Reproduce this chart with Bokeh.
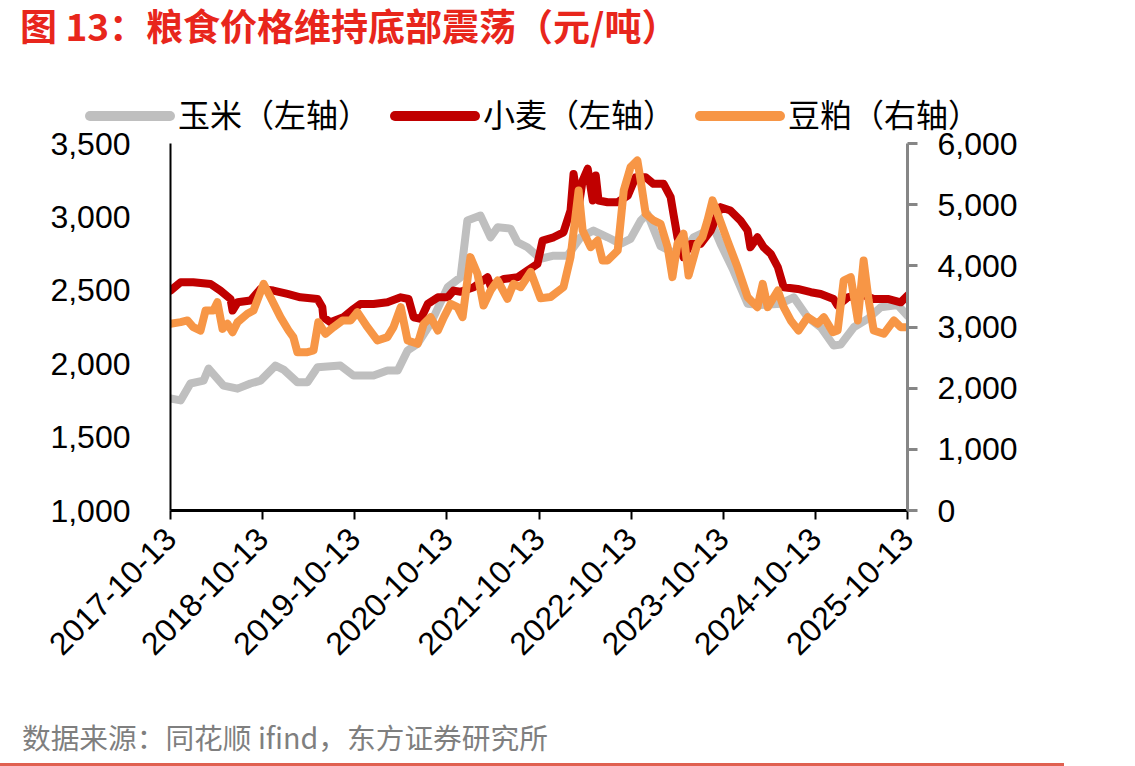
import math
import pandas as pd
from bokeh.plotting import figure
from bokeh.layouts import column
from bokeh.models import (Range1d, LinearAxis, FixedTicker, NumeralTickFormatter,
                          DatetimeTickFormatter, ColumnDataSource, Div)
from bokeh.embed import file_html
from bokeh.resources import INLINE

# ---- data -------------------------------------------------------------
corn_dates = [
    "2017-10-13", "2017-11-22", "2017-12-31", "2018-02-21", "2018-03-13",
    "2018-05-11", "2018-07-06", "2018-08-26", "2018-10-05", "2018-12-03",
    "2019-01-04", "2019-02-28", "2019-04-09", "2019-05-19", "2019-08-18",
    "2019-10-09", "2019-12-27", "2020-02-20", "2020-04-01", "2020-05-10",
    "2020-06-19", "2020-08-09", "2020-10-16", "2020-12-06", "2021-01-02",
    "2021-02-23", "2021-04-04", "2021-05-02", "2021-06-22", "2021-07-20",
    "2021-08-28", "2021-10-19", "2021-12-10", "2022-02-03", "2022-03-27",
    "2022-05-17", "2022-07-12", "2022-09-01", "2022-10-11", "2022-11-20",
    "2022-12-17", "2023-02-07", "2023-04-07", "2023-05-17", "2023-06-18",
    "2023-08-12", "2023-09-05", "2023-10-03", "2023-11-23", "2024-01-18",
    "2024-03-10", "2024-05-28", "2024-07-19", "2024-09-12", "2024-11-03",
    "2024-12-24", "2025-01-21", "2025-03-14", "2025-05-08", "2025-06-29",
    "2025-09-04", "2025-10-13",
]
corn_price = [
    1763, 1750, 1865, 1885, 1967,
    1851, 1830, 1865, 1885, 1987,
    1960, 1874, 1874, 1976, 1987,
    1919, 1919, 1953, 1953, 2090,
    2137, 2273, 2521, 2589, 2975,
    3009, 2861, 2930, 2920, 2827,
    2793, 2715, 2736, 2736, 2861,
    2907, 2861, 2816, 2850, 2975,
    3020, 2800, 2750, 2780, 2861,
    2907, 2930, 2816, 2634, 2409,
    2400, 2409, 2452, 2316, 2248,
    2124, 2130, 2248, 2305, 2384,
    2400, 2327,
]

wheat_dates = [
    "2017-10-13", "2017-11-22", "2018-01-11", "2018-03-21", "2018-04-29",
    "2018-06-08", "2018-06-16", "2018-07-06", "2018-08-26", "2018-10-05",
    "2018-11-25", "2019-01-20", "2019-03-12", "2019-05-19", "2019-06-07",
    "2019-06-11", "2019-07-09", "2019-08-29", "2019-10-09", "2019-11-05",
    "2019-12-27", "2020-02-20", "2020-04-13", "2020-05-14", "2020-06-03",
    "2020-07-01", "2020-07-29", "2020-09-07", "2020-10-16", "2020-11-08",
    "2020-12-06", "2021-01-27", "2021-03-23", "2021-04-04", "2021-05-26",
    "2021-07-20", "2021-08-28", "2021-10-07", "2021-10-27", "2021-12-10",
    "2022-01-18", "2022-02-15", "2022-02-27", "2022-03-19", "2022-04-04",
    "2022-04-24", "2022-05-14", "2022-05-26", "2022-06-06", "2022-07-12",
    "2022-08-21", "2022-09-30", "2022-10-31", "2022-12-10", "2023-01-10",
    "2023-02-19", "2023-03-19", "2023-03-30", "2023-04-15", "2023-05-09",
    "2023-06-06", "2023-07-16", "2023-08-25", "2023-10-03", "2023-11-11",
    "2023-12-21", "2024-01-18", "2024-01-29", "2024-02-26", "2024-03-22",
    "2024-04-19", "2024-05-17", "2024-06-09", "2024-08-04", "2024-09-25",
    "2024-11-03", "2024-12-24", "2025-01-09", "2025-02-18", "2025-04-11",
    "2025-06-01", "2025-07-27", "2025-09-16", "2025-10-13",
]
wheat_price = [
    2498, 2555, 2555, 2543, 2498,
    2441, 2362, 2418, 2430, 2509,
    2498, 2475, 2452, 2441, 2384,
    2316, 2282, 2316, 2373, 2407,
    2407, 2418, 2452, 2441, 2316,
    2305, 2407, 2452, 2452, 2498,
    2490, 2521, 2589, 2530, 2577,
    2589, 2634, 2680, 2839, 2861,
    2895, 3043, 3293, 3066, 3248,
    3328, 3112, 3282, 3112, 3100,
    3100, 3145, 3270, 3270, 3225,
    3225, 3134, 3020, 2861, 2725,
    2816, 2816, 2907, 3066, 3043,
    2975, 2907, 2793, 2861, 2793,
    2748, 2657, 2521, 2509, 2487,
    2475, 2441, 2396, 2452, 2475,
    2441, 2441, 2418, 2464,
]

meal_dates = [
    "2017-10-13", "2017-11-22", "2017-12-19", "2018-01-11", "2018-02-09",
    "2018-03-01", "2018-04-01", "2018-04-17", "2018-05-07", "2018-05-27",
    "2018-06-16", "2018-07-06", "2018-08-14", "2018-09-07", "2018-10-17",
    "2018-11-13", "2018-12-23", "2019-01-24", "2019-02-12", "2019-02-28",
    "2019-04-09", "2019-05-03", "2019-05-22", "2019-06-19", "2019-07-21",
    "2019-08-26", "2019-09-27", "2019-10-24", "2019-12-03", "2020-01-11",
    "2020-02-20", "2020-03-15", "2020-04-13", "2020-05-10", "2020-06-19",
    "2020-07-13", "2020-08-09", "2020-09-07", "2020-10-01", "2020-10-28",
    "2020-11-24", "2020-12-14", "2021-01-14", "2021-02-11", "2021-03-07",
    "2021-04-04", "2021-05-02", "2021-06-10", "2021-07-04", "2021-08-01",
    "2021-09-10", "2021-10-19", "2021-11-28", "2022-01-18", "2022-02-15",
    "2022-03-19", "2022-04-04", "2022-05-06", "2022-06-02", "2022-06-22",
    "2022-07-12", "2022-08-21", "2022-09-14", "2022-10-11", "2022-11-07",
    "2022-11-20", "2022-12-10", "2023-01-10", "2023-02-07", "2023-03-07",
    "2023-03-26", "2023-04-15", "2023-05-09", "2023-05-29", "2023-07-03",
    "2023-07-23", "2023-08-12", "2023-09-01", "2023-09-21", "2023-10-30",
    "2023-12-09", "2024-01-18", "2024-02-26", "2024-03-18", "2024-04-07",
    "2024-05-17", "2024-06-09", "2024-07-07", "2024-08-07", "2024-09-12",
    "2024-10-22", "2024-11-15", "2024-12-21", "2025-01-09", "2025-02-02",
    "2025-03-02", "2025-03-30", "2025-04-22", "2025-05-12", "2025-06-01",
    "2025-07-11", "2025-08-20", "2025-09-16", "2025-10-13",
]
meal_price = [
    3053, 3080, 3107, 2997, 2943,
    3270, 3270, 3406, 2970, 3053,
    2915, 3080, 3216, 3270, 3706,
    3488, 3161, 2943, 2834, 2589,
    2589, 2616, 3079, 2889, 2997,
    3107, 3107, 3243, 2997, 2780,
    2834, 2997, 3324, 2780, 2725,
    3053, 3161, 2943, 3161, 3379,
    3324, 3161, 4142, 3870, 3352,
    3597, 3760, 3461, 3706, 3650,
    3900, 3470, 3490, 3651, 4142,
    5232, 4578, 4305, 4414, 4087,
    4087, 4251, 5232, 5613, 5723,
    5396, 4851, 4742, 4687, 4305,
    3815, 4360, 4524, 3842, 4360,
    4470, 4742, 5069, 4851, 4414,
    3978, 3488, 3324, 3706, 3324,
    3597, 3324, 3107, 2943, 3161,
    3053, 3161, 2916, 2943, 3760,
    3815, 3107, 4087, 3434, 2943,
    2889, 3107, 2997, 2997,
]

date_ticks = ["2017-10-13", "2018-10-13", "2019-10-13", "2020-10-13", "2021-10-13",
              "2022-10-13", "2023-10-13", "2024-10-13", "2025-10-13"]
left_ticks = [1000, 1500, 2000, 2500, 3000, 3500]
right_ticks = [0, 1000, 2000, 3000, 4000, 5000, 6000]

series_names = ["玉米（左轴）", "小麦（左轴）", "豆粕（右轴）"]
series_colors = ["#BFBFBF", "#C00000", "#F79646"]

title_text = "图 13：粮食价格维持底部震荡（元/吨）"
source_text = "数据来源：同花顺 ifind，东方证券研究所"

NUM_FONT = "Liberation Sans"
CJK_FONT = "Noto Sans CJK SC"

# ---- header: heading and legend ---------------------------------------
legend_x = [85, 390, 695]
items_html = ""
for name, color, lx in zip(series_names, series_colors, legend_x):
    items_html += (
        f'<div style="position:absolute;left:{lx}px;top:111px;width:90px;height:10px;'
        f'border-radius:5px;background:{color};"></div>'
        f'<div style="position:absolute;left:{lx + 93}px;top:95px;white-space:nowrap;'
        f"font-family:'{CJK_FONT}';font-size:32px;line-height:36px;color:#000;\">"
        f'{name}</div>'
    )
header_html = (
    '<div style="position:relative;width:1135px;height:143px;">'
    f'<div style="position:absolute;left:20px;top:4px;white-space:nowrap;'
    f"font-family:'{CJK_FONT}';font-weight:bold;font-size:37px;line-height:42px;"
    f'color:#E8261C;">{title_text}</div>'
    f'{items_html}</div>'
)
header = Div(text=header_html, width=1135, height=143, margin=0,
             styles={"position": "relative", "z-index": "1"})

# ---- figure -----------------------------------------------------------
p = figure(
    width=1135, height=587,
    x_axis_type="datetime",
    x_range=Range1d(pd.Timestamp(date_ticks[0]), pd.Timestamp(date_ticks[-1])),
    y_range=Range1d(left_ticks[0], left_ticks[-1]),
    output_backend="svg", toolbar_location=None,
    min_border_left=170, min_border_right=228,
    min_border_top=20, min_border_bottom=200,
    margin=(-20, 0, 0, 0),
)
p.extra_y_ranges = {"meal": Range1d(right_ticks[0], right_ticks[-1])}
p.outline_line_color = None
p.xgrid.visible = False
p.ygrid.visible = False
p.background_fill_color = "white"
p.border_fill_color = None

# lines: corn at the back, meal on top
for dates, prices, color, rng in [
    (corn_dates, corn_price, series_colors[0], "default"),
    (wheat_dates, wheat_price, series_colors[1], "default"),
    (meal_dates, meal_price, series_colors[2], "meal"),
]:
    src = ColumnDataSource(dict(date=pd.to_datetime(dates), price=prices))
    p.line("date", "price", source=src, line_color=color, line_width=8,
           line_join="round", line_cap="round", y_range_name=rng)

# x axis
xa = p.xaxis[0]
xa.ticker = FixedTicker(ticks=[pd.Timestamp(d).value / 1e6 for d in date_ticks])
fmt = "%Y-%m-%d"
xa.formatter = DatetimeTickFormatter(years=fmt, months=fmt, days=fmt, hours=fmt,
                                     minutes=fmt, seconds=fmt, milliseconds=fmt,
                                     microseconds=fmt)
xa.major_label_orientation = math.pi / 4
xa.axis_line_color = "black"
xa.axis_line_width = 3
xa.major_tick_line_color = "black"
xa.major_tick_line_width = 2
xa.major_tick_out = 9
xa.major_tick_in = 0
xa.minor_tick_line_color = None
xa.major_label_text_font = NUM_FONT
xa.major_label_text_font_size = "32px"
xa.major_label_text_color = "black"
xa.major_label_standoff = 14

# left axis
ya = p.yaxis[0]
ya.ticker = FixedTicker(ticks=left_ticks)
ya.formatter = NumeralTickFormatter(format="0,0")
ya.axis_line_color = "black"
ya.axis_line_width = 2
ya.major_tick_line_color = None
ya.major_tick_out = 0
ya.major_tick_in = 0
ya.minor_tick_line_color = None
ya.major_label_text_font = NUM_FONT
ya.major_label_text_font_size = "32px"
ya.major_label_text_color = "black"
ya.major_label_standoff = 40

# right axis
ra = LinearAxis(y_range_name="meal", ticker=FixedTicker(ticks=right_ticks),
                formatter=NumeralTickFormatter(format="0,0"))
ra.axis_line_color = "#868686"
ra.axis_line_width = 3
ra.major_tick_line_color = "#868686"
ra.major_tick_line_width = 3
ra.major_tick_out = 10
ra.major_tick_in = 0
ra.minor_tick_line_color = None
ra.major_label_text_font = NUM_FONT
ra.major_label_text_font_size = "32px"
ra.major_label_text_color = "black"
ra.major_label_standoff = 20
p.add_layout(ra, "right")

# ---- footer: source note and bottom rule ------------------------------
footer_html = (
    '<div style="position:relative;width:1135px;height:53px;">'
    f'<div style="position:absolute;left:22px;top:10px;white-space:nowrap;'
    f"font-family:'{CJK_FONT}';font-size:28.7px;line-height:34px;color:#7F7F7F;\">"
    f'{source_text}</div></div>'
)
footer = Div(text=footer_html, width=1135, height=53, margin=0)
rule = Div(text="", width=1064, height=3, margin=0,
           styles={"background-color": "#E06050"})

page = column(header, p, footer, rule, spacing=0)
open("out.html", "w").write(file_html(page, INLINE))
